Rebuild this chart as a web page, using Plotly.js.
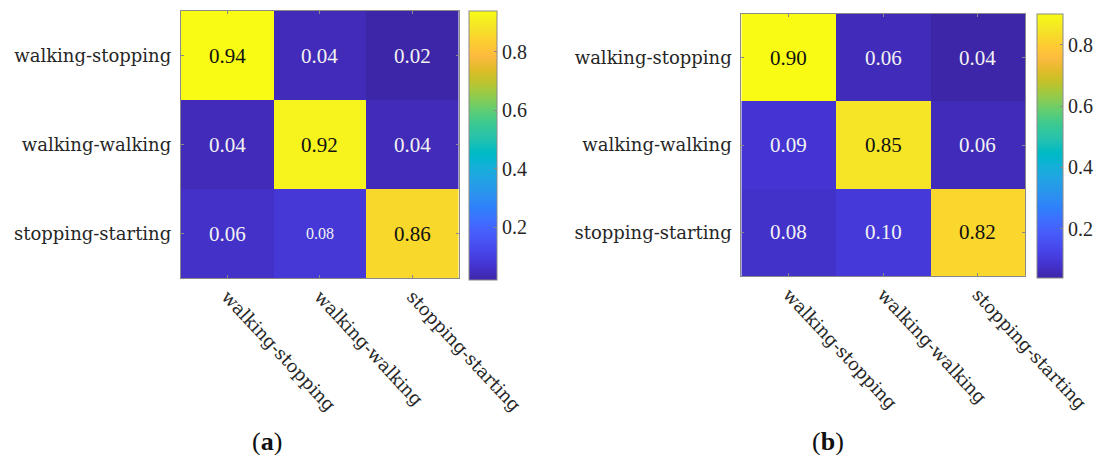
<!DOCTYPE html>
<html>
<head>
<meta charset="utf-8">
<script src="https://cdn.plot.ly/plotly-3.0.1.min.js"></script>
<style>
  html, body { margin: 0; padding: 0; background: #fff; }
  #chart { width: 1096px; height: 455px; }
</style>
</head>
<body>
<div id="chart"></div>
<script>
// Class labels (true class on rows, predicted class on columns)
const classes = ['walking-stopping', 'walking-walking', 'stopping-starting'];

// Confusion matrix (a)
const matrixA = [
  [0.94, 0.04, 0.02],
  [0.04, 0.92, 0.04],
  [0.06, 0.08, 0.86]
];

// Confusion matrix (b)
const matrixB = [
  [0.90, 0.06, 0.04],
  [0.09, 0.85, 0.06],
  [0.08, 0.10, 0.82]
];

const panelLabels = ['a', 'b'];
const colorbarTicks = [0.2, 0.4, 0.6, 0.8];

// Parula colour map (64-step table)
const parulaRGB = [
  [0.2422,0.1504,0.6603],[0.2504,0.1650,0.7076],[0.2578,0.1818,0.7511],[0.2647,0.1978,0.7952],
  [0.2706,0.2147,0.8364],[0.2751,0.2342,0.8710],[0.2783,0.2559,0.8991],[0.2803,0.2782,0.9221],
  [0.2813,0.3006,0.9414],[0.2810,0.3228,0.9579],[0.2795,0.3447,0.9717],[0.2760,0.3667,0.9829],
  [0.2699,0.3892,0.9906],[0.2602,0.4123,0.9952],[0.2440,0.4358,0.9988],[0.2206,0.4603,0.9973],
  [0.1963,0.4847,0.9892],[0.1834,0.5074,0.9798],[0.1786,0.5289,0.9682],[0.1764,0.5499,0.9520],
  [0.1687,0.5703,0.9359],[0.1540,0.5902,0.9218],[0.1460,0.6091,0.9079],[0.1380,0.6276,0.8973],
  [0.1248,0.6459,0.8883],[0.1113,0.6635,0.8763],[0.0952,0.6798,0.8598],[0.0689,0.6948,0.8394],
  [0.0297,0.7082,0.8163],[0.0036,0.7203,0.7917],[0.0067,0.7312,0.7660],[0.0433,0.7411,0.7394],
  [0.0964,0.7500,0.7120],[0.1408,0.7584,0.6842],[0.1717,0.7670,0.6554],[0.1938,0.7758,0.6251],
  [0.2161,0.7843,0.5923],[0.2470,0.7918,0.5567],[0.2906,0.7973,0.5188],[0.3406,0.8008,0.4789],
  [0.3909,0.8029,0.4354],[0.4456,0.8024,0.3909],[0.5044,0.7993,0.3480],[0.5616,0.7942,0.3045],
  [0.6174,0.7876,0.2612],[0.6720,0.7793,0.2227],[0.7242,0.7698,0.1910],[0.7738,0.7598,0.1646],
  [0.8203,0.7498,0.1535],[0.8634,0.7406,0.1596],[0.9035,0.7330,0.1774],[0.9393,0.7288,0.2100],
  [0.9728,0.7298,0.2394],[0.9956,0.7434,0.2371],[0.9970,0.7659,0.2199],[0.9952,0.7893,0.2028],
  [0.9892,0.8136,0.1885],[0.9786,0.8386,0.1766],[0.9676,0.8639,0.1643],[0.9610,0.8890,0.1537],
  [0.9597,0.9135,0.1423],[0.9628,0.9373,0.1265],[0.9691,0.9606,0.1064],[0.9769,0.9839,0.0805]
];
const parula = parulaRGB.map((c, i) => [
  i / (parulaRGB.length - 1),
  'rgb(' + c.map(v => Math.round(v * 255)).join(',') + ')'
]);

const serifLabel = 'DejaVu Serif, serif';
const serifNum = 'Liberation Serif, serif';
const frameColor = '#8a8a8a';
const textColor = '#262626';

// Panel geometry (pixels)
const W = 1096, H = 455;
const panels = [
  { z: matrixA, x0: 181, x1: 459, y0: 11, y1: 278, cbx: 469, cbw: 28, cby0: 11, cby1: 280 },
  { z: matrixB, x0: 742, x1: 1026, y0: 14, y1: 276, cbx: 1037, cbw: 26, cby0: 14, cby1: 278 }
];
const captionX = [267, 829];
const captionY = 441;

const traces = [];
const annotations = [];
const layout = {
  width: W, height: H, autosize: false,
  margin: { l: 0, r: 0, t: 0, b: 0, pad: 0 },
  paper_bgcolor: '#fff', plot_bgcolor: '#fff',
  showlegend: false,
  annotations: annotations
};

panels.forEach((p, k) => {
  const xa = k === 0 ? 'x' : 'x2';
  const ya = k === 0 ? 'y' : 'y2';
  const zvals = p.z.flat();
  const zmin = Math.min(...zvals), zmax = Math.max(...zvals);

  traces.push({
    type: 'heatmap',
    x: classes, y: classes, z: p.z,
    xaxis: xa, yaxis: ya,
    colorscale: parula,
    zmin: zmin, zmax: zmax,
    hoverinfo: 'skip',
    colorbar: {
      x: p.cbx / W, xanchor: 'left', xref: 'paper',
      y: 1 - p.cby0 / H, yanchor: 'top', yref: 'paper',
      lenmode: 'pixels', len: p.cby1 - p.cby0,
      thicknessmode: 'pixels', thickness: p.cbw,
      xpad: 0, ypad: 0,
      outlinewidth: 1, outlinecolor: frameColor,
      ticks: 'inside', ticklen: 3, tickcolor: frameColor,
      tickvals: colorbarTicks, tickformat: '.1f',
      tickfont: { family: serifNum, size: 20, color: textColor }
    }
  });

  const axCommon = {
    type: 'category',
    showline: true, linecolor: frameColor, linewidth: 1, mirror: 'ticks',
    ticks: 'inside', ticklen: 3, tickcolor: frameColor,
    showgrid: false, zeroline: false, fixedrange: true
  };
  layout[k === 0 ? 'xaxis' : 'xaxis2'] = Object.assign({}, axCommon, {
    domain: [p.x0 / W, p.x1 / W], anchor: ya,
    tickangle: 47,
    tickfont: { family: serifLabel, size: 18, color: textColor }
  });
  layout[k === 0 ? 'yaxis' : 'yaxis2'] = Object.assign({}, axCommon, {
    domain: [1 - p.y1 / H, 1 - p.y0 / H], anchor: xa,
    autorange: 'reversed',
    ticklabelstandoff: 5,
    tickfont: { family: serifLabel, size: 18, color: textColor }
  });

  // Cell values written on each cell
  p.z.forEach((row, i) => {
    row.forEach((v, j) => {
      const light = (v - zmin) / (zmax - zmin) < 0.5;
      const small = (k === 0 && i === 2 && j === 1);
      annotations.push({
        x: classes[j], y: classes[i], xref: xa, yref: ya,
        text: v.toFixed(2), showarrow: false,
        font: { family: serifNum, size: small ? 16 : 21, color: light ? '#f2f2f2' : '#111' }
      });
    });
  });

  // Panel caption
  annotations.push({
    x: captionX[k] / W, y: 1 - captionY / H, xref: 'paper', yref: 'paper',
    xanchor: 'center', yanchor: 'middle',
    text: '(<b>' + panelLabels[k] + '</b>)', showarrow: false,
    font: { family: serifNum, size: 26, color: '#111' }
  });
});

Plotly.newPlot('chart', traces, layout, { displayModeBar: false, staticPlot: true });
</script>
</body>
</html>
